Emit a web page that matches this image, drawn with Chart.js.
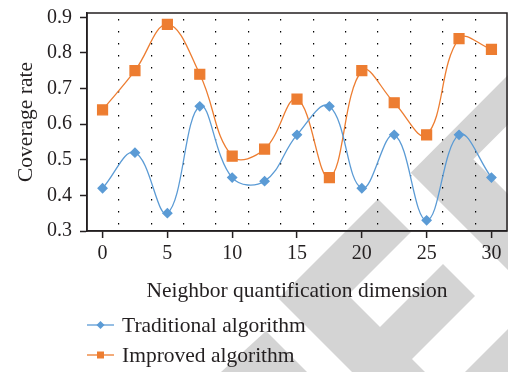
<!DOCTYPE html>
<html>
<head>
<meta charset="utf-8">
<title>Coverage rate</title>
<script src="https://cdn.jsdelivr.net/npm/chart.js@4/dist/chart.umd.min.js"></script>
<style>
  html, body { margin: 0; padding: 0; background: #fff; }
  #wrap { position: relative; width: 508px; height: 372px; overflow: hidden; }
  #legend {
    position: absolute; left: 87px; top: 310px;
    font-family: "Liberation Serif", "Times New Roman", serif;
    font-size: 21.5px; color: #231f20;
  }
  .item { display: flex; align-items: center; height: 30px; }
  .item canvas { margin-right: 8px; }
</style>
</head>
<body>
<div id="wrap">
  <canvas id="chart" width="508" height="372"></canvas>
  <div id="legend"></div>
</div>
<script>
const xValues = [0, 2.5, 5, 7.5, 10, 12.5, 15, 17.5, 20, 22.5, 25, 27.5, 30];
const traditional = [0.42, 0.52, 0.35, 0.65, 0.45, 0.44, 0.57, 0.65, 0.42, 0.57, 0.33, 0.57, 0.45];
const improved = [0.64, 0.75, 0.88, 0.74, 0.51, 0.53, 0.67, 0.45, 0.75, 0.66, 0.57, 0.84, 0.81];
const xTicks = [0, 5, 10, 15, 20, 25, 30];
const yTicks = [0.3, 0.4, 0.5, 0.6, 0.7, 0.8, 0.9];
const xGrid = [1.25, 3.75, 6.25, 8.75, 11.25, 13.75, 16.25, 18.75, 21.25, 23.75, 26.25, 28.75];

const BLUE = '#5b9bd5';
const ORANGE = '#ed7d31';
const INK = '#231f20';
const SERIF = '"Liberation Serif", "Times New Roman", serif';

function points(ys) {
  return xValues.map((x, i) => ({ x: x, y: ys[i] }));
}

// light grey logo shapes sitting behind the plot
const watermark = {
  id: 'watermark',
  beforeDraw(chart) {
    const c = chart.ctx;
    c.save();
    c.fillStyle = '#fff';
    c.fillRect(0, 0, chart.width, chart.height);
    c.fillStyle = '#d4d4d4';
    const shapes = [
      [[410.7, 172.7], [508, 75], [508, 124.5], [473.3, 159.3], [508, 194], [508, 270]],
      [[278.5, 298.5], [378, 199], [411, 232], [348, 295], [380, 327], [443, 264], [475, 296],
       [412, 359], [445, 392], [508, 329], [540, 361], [440.5, 460.5]],
      [[266, 331], [307, 372], [221, 372]]
    ];
    shapes.forEach(s => {
      c.beginPath();
      s.forEach((p, i) => i ? c.lineTo(p[0], p[1]) : c.moveTo(p[0], p[1]));
      c.closePath();
      c.fill();
    });
    c.restore();
  }
};

// box around the plotting area
const frame = {
  id: 'frame',
  beforeDatasetsDraw(chart) {
    const a = chart.chartArea;
    const c = chart.ctx;
    c.save();
    c.strokeStyle = INK;
    c.lineWidth = 1.5;
    c.strokeRect(a.left, a.top, a.right - a.left, a.bottom - a.top);
    c.restore();
  }
};

const tickFont = { family: SERIF, size: 20 };
const titleFont = { family: SERIF, size: 21.5 };

new Chart(document.getElementById('chart'), {
  type: 'line',
  data: {
    datasets: [
      {
        label: 'Traditional algorithm',
        data: points(traditional),
        borderColor: BLUE,
        backgroundColor: BLUE,
        borderWidth: 1.3,
        pointStyle: 'rectRot',
        pointRadius: 4.5,
        tension: 0.4
      },
      {
        label: 'Improved algorithm',
        data: points(improved),
        borderColor: ORANGE,
        backgroundColor: ORANGE,
        borderWidth: 1.3,
        pointStyle: 'rect',
        pointRadius: 7,
        tension: 0.4
      }
    ]
  },
  options: {
    responsive: false,
    animation: false,
    layout: { autoPadding: false, padding: { left: 0, top: 13, right: 1, bottom: 0 } },
    plugins: { legend: { display: false }, tooltip: { enabled: false } },
    scales: {
      x: {
        type: 'linear',
        min: -1.2,
        max: 31.2,
        afterBuildTicks: s => {
          s.ticks = xTicks.concat(xGrid).sort((a, b) => a - b).map(v => ({ value: v }));
        },
        afterFit: s => {
          s.height = 141;
          s.paddingLeft = 0;
          s.paddingRight = 0;
        },
        ticks: {
          autoSkip: false,
          maxRotation: 0,
          padding: 4,
          color: INK,
          font: tickFont,
          callback: v => xTicks.includes(v) ? String(v) : ''
        },
        grid: {
          drawOnChartArea: true,
          tickLength: 7,
          lineWidth: 1.2,
          color: c => xGrid.includes(c.tick && c.tick.value) ? '#000' : 'rgba(0,0,0,0)',
          tickColor: c => xTicks.includes(c.tick && c.tick.value) ? INK : 'rgba(0,0,0,0)',
          tickWidth: 1.5
        },
        border: { color: INK, width: 1.5, dash: [1.5, 10.5], dashOffset: 6 },
        title: {
          display: true,
          text: 'Neighbor quantification dimension',
          color: INK,
          font: titleFont,
          padding: { top: 0, bottom: 68 }
        }
      },
      y: {
        min: 0.3,
        max: 0.912,
        afterBuildTicks: s => { s.ticks = yTicks.map(v => ({ value: v })); },
        afterFit: s => {
          s.width = 87;
          s.paddingTop = 0;
          s.paddingBottom = 0;
        },
        ticks: {
          padding: 8,
          color: INK,
          font: tickFont,
          callback: v => v.toFixed(1)
        },
        grid: { drawOnChartArea: false, tickLength: 7, tickColor: INK, tickWidth: 1.5 },
        border: { color: INK, width: 1.5 },
        title: {
          display: true,
          text: 'Coverage rate',
          color: INK,
          font: titleFont,
          padding: { top: 13, bottom: 0 }
        }
      }
    }
  },
  plugins: [watermark, frame]
});

// legend entries: short line with the series marker in the middle
const legend = document.getElementById('legend');
[
  { label: 'Traditional algorithm', color: BLUE, marker: 'diamond' },
  { label: 'Improved algorithm', color: ORANGE, marker: 'square' }
].forEach(entry => {
  const row = document.createElement('div');
  row.className = 'item';
  const icon = document.createElement('canvas');
  icon.width = 27;
  icon.height = 14;
  const g = icon.getContext('2d');
  g.strokeStyle = entry.color;
  g.fillStyle = entry.color;
  g.lineWidth = 1.3;
  g.beginPath();
  g.moveTo(0, 7);
  g.lineTo(27, 7);
  g.stroke();
  g.beginPath();
  if (entry.marker === 'diamond') {
    g.moveTo(13.5, 3); g.lineTo(17.5, 7); g.lineTo(13.5, 11); g.lineTo(9.5, 7);
  } else {
    g.rect(10, 3.5, 7, 7);
  }
  g.closePath();
  g.fill();
  const text = document.createElement('span');
  text.textContent = entry.label;
  row.appendChild(icon);
  row.appendChild(text);
  legend.appendChild(row);
});
</script>
</body>
</html>
